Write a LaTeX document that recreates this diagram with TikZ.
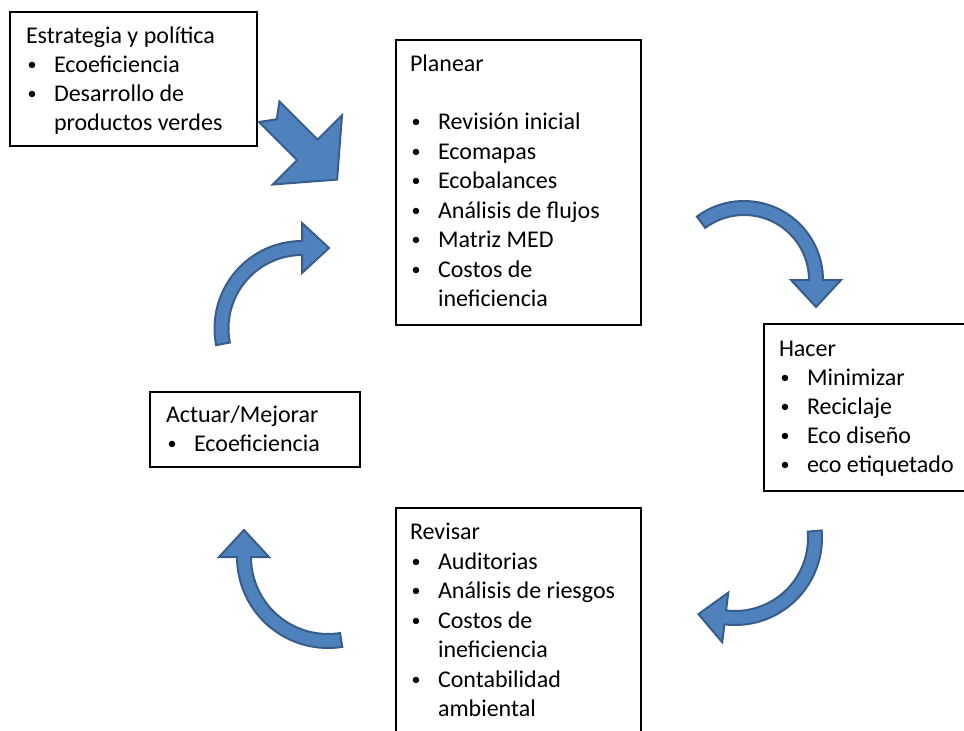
\documentclass[tikz,border=0pt]{standalone}
\usepackage{fontspec}
\setmainfont{Carlito}
\usetikzlibrary{calc}
\definecolor{arrfill}{HTML}{4F81BD}
\definecolor{arrdraw}{HTML}{385D8A}
\newcommand\cvarrow[6]{%
  \coordinate (#1) at (#2,#3);
  \pgfmathsetmacro\cvro{#4+7}%
  \pgfmathsetmacro\cvri{#4-7}%
  \pgfmathsetmacro\cvho{#4+25}%
  \pgfmathsetmacro\cvhi{#4-25}%
  \pgfmathsetmacro\cvtb{#6-90}%
  \draw[arrowsty] ($(#1)+(#5:\cvro pt)$) arc[start angle=#5, end angle=#6, radius=\cvro pt]
    -- ($(#1)+(#6:\cvho pt)$) -- ($(#1)+(#6:#4pt)+(\cvtb:27pt)$) -- ($(#1)+(#6:\cvhi pt)$)
    -- ($(#1)+(#6:\cvri pt)$) arc[start angle=#6, end angle=#5, radius=\cvri pt] -- cycle;
}
\newcommand\bulsym{\raisebox{2pt}{•}}
\begin{document}
\begin{tikzpicture}[x=1pt,y=1pt,
  arrowsty/.style={fill=arrfill,draw=arrdraw,line width=2pt},
  box/.style={draw=black,line width=2.6pt,fill=white,inner sep=0pt,outer sep=0pt,anchor=north west},
  txt/.style={anchor=base west,inner sep=0pt,outer sep=0pt,font=\fontsize{24}{29.4}\selectfont},
  bul/.style={anchor=base,inner sep=0pt,outer sep=0pt,font=\fontsize{18}{20}\selectfont}]
\useasboundingbox (0,0) rectangle (964,-731);
\clip (0,0) rectangle (964,-731);
% arrows
\begin{scope}[shift={(269.2,-111.7)}, rotate=-45]
\draw[arrowsty] (0,14.5) -- (54,14.5) -- (54,49) -- (96,0) -- (54,-49) -- (54,-14.5) -- (0,-14.5) -- (10.7,0) -- cycle;
\end{scope}
\cvarrow{c1}{744}{-280}{72}{126.6}{0}
\cvarrow{c2}{735}{-538}{80}{5}{-97}
\cvarrow{c3}{328}{-557}{84}{-81}{-180}
\cvarrow{c4}{302}{-328.5}{80.5}{191}{90}
% boxes
\node[box,minimum width=247pt,minimum height=134pt] (estr) at (10,-12) {};
\node[box,minimum width=245pt,minimum height=285pt] (plan) at (396,-40) {};
\node[box,minimum width=226pt,minimum height=167pt] (hacer) at (764,-324) {};
\node[box,minimum width=210pt,minimum height=75pt] (actuar) at (150,-392) {};
\node[box,minimum width=245pt,minimum height=252pt] (revisar) at (396,-508) {};
% Estrategia
\node[txt] (e0) at (26,-43) {Estrategia y política};
\node[bul] (eb1) at (32,-72) {\bulsym};
\node[txt] (e1) at (54,-72) {Ecoeficiencia};
\node[bul] (eb2) at (32,-101) {\bulsym};
\node[txt] (e2) at (54,-101) {Desarrollo de};
\node[txt] (e3) at (54,-130) {productos verdes};
% Planear
\node[txt] (p0) at (410,-71) {Planear};
\node[bul] (pb1) at (416,-129.5) {\bulsym};
\node[txt] (p1) at (438,-129.5) {Revisión inicial};
\node[bul] (pb2) at (416,-159) {\bulsym};
\node[txt] (p2) at (438,-159) {Ecomapas};
\node[bul] (pb3) at (416,-188.5) {\bulsym};
\node[txt] (p3) at (438,-188.5) {Ecobalances};
\node[bul] (pb4) at (416,-218) {\bulsym};
\node[txt] (p4) at (438,-218) {Análisis de flujos};
\node[bul] (pb5) at (416,-247.5) {\bulsym};
\node[txt] (p5) at (438,-247.5) {Matriz MED};
\node[bul] (pb6) at (416,-277) {\bulsym};
\node[txt] (p6) at (438,-277) {Costos de};
\node[txt] (p7) at (438,-306.5) {ineficiencia};
% Hacer
\node[txt] (h0) at (779,-356) {Hacer};
\node[bul] (hb1) at (785,-385) {\bulsym};
\node[txt] (h1) at (807,-385) {Minimizar};
\node[bul] (hb2) at (785,-414) {\bulsym};
\node[txt] (h2) at (807,-414) {Reciclaje};
\node[bul] (hb3) at (785,-443.5) {\bulsym};
\node[txt] (h3) at (807,-443.5) {Eco diseño};
\node[bul] (hb4) at (785,-472.5) {\bulsym};
\node[txt] (h4) at (807,-472.5) {eco etiquetado};
% Actuar
\node[txt] (a0) at (166,-422.5) {Actuar/Mejorar};
\node[bul] (ab1) at (172,-451.5) {\bulsym};
\node[txt] (a1) at (194,-451.5) {Ecoeficiencia};
% Revisar
\node[txt] (r0) at (410,-539.5) {Revisar};
\node[bul] (rb1) at (416,-569) {\bulsym};
\node[txt] (r1) at (438,-569) {Auditorias};
\node[bul] (rb2) at (416,-598.5) {\bulsym};
\node[txt] (r2) at (438,-598.5) {Análisis de riesgos};
\node[bul] (rb3) at (416,-628) {\bulsym};
\node[txt] (r3) at (438,-628) {Costos de};
\node[txt] (r4) at (438,-657.5) {ineficiencia};
\node[bul] (rb4) at (416,-687) {\bulsym};
\node[txt] (r5) at (438,-687) {Contabilidad};
\node[txt] (r6) at (438,-716.5) {ambiental};
\end{tikzpicture}
\end{document}
